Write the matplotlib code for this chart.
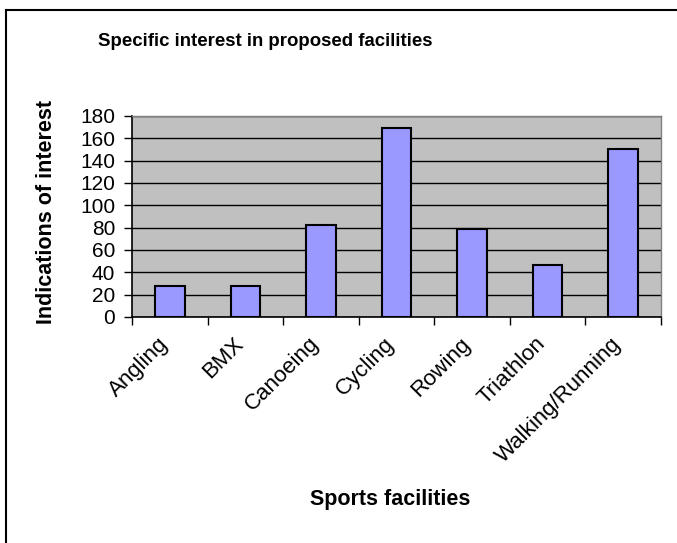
import matplotlib
matplotlib.use("Agg")
import matplotlib.pyplot as plt
import matplotlib.transforms as mtransforms
import numpy as np
from matplotlib.lines import Line2D

categories = ["Angling", "BMX", "Canoeing", "Cycling", "Rowing", "Triathlon", "Walking/Running"]
values = [28, 28, 82, 169, 79, 47, 150]
yticks = [0, 20, 40, 60, 80, 100, 120, 140, 160, 180]

plt.rcParams['font.family'] = ['Liberation Sans', 'DejaVu Sans']

W, H = 677, 543
fig = plt.figure(figsize=(W / 100, H / 100), dpi=100)
fig.patch.set_facecolor('white')

ax = fig.add_axes([132 / W, 1 - 317 / H, (661 - 132) / W, (317 - 116) / H])
ax.set_facecolor('#C0C0C0')
x = np.arange(len(categories))
ax.bar(x, values, width=0.39, color='#9999FF', edgecolor='black', linewidth=1.5, zorder=3)

ax.set_xlim(-0.5, len(categories) - 0.5)
ax.set_ylim(0, 180)
ax.set_yticks(yticks)
ax.set_yticklabels([str(v) for v in yticks], fontsize=15)
ax.yaxis.grid(True, color='black', linewidth=1.0, zorder=1)
ax.set_axisbelow(True)

ax.set_xticks(np.arange(-0.5, len(categories)), labels=[""] * (len(categories) + 1))
ax.set_xticks(x, labels=categories, minor=True)
ax.tick_params(axis='x', which='major', length=6, width=1, direction='out', color='black')
ax.tick_params(axis='x', which='minor', length=0, pad=17, labelsize=16)
ax.tick_params(axis='y', length=6, width=1, direction='out', pad=6)
off = mtransforms.ScaledTranslation(-5 / 100, 0, fig.dpi_scale_trans)
for lab in ax.get_xticklabels(minor=True):
    lab.set_rotation(45)
    lab.set_ha('right')
    lab.set_va('center')
    lab.set_rotation_mode('anchor')
    lab.set_transform(lab.get_transform() + off)

for s in ['left', 'bottom']:
    ax.spines[s].set_color('black')
    ax.spines[s].set_linewidth(1.2)
for s in ['top', 'right']:
    ax.spines[s].set_color('#808080')
    ax.spines[s].set_linewidth(1.0)

fig.text(265 / W, 1 - 42 / H, "Specific interest in proposed facilities",
         ha='center', va='center', fontsize=13.4, fontweight='bold')
fig.text(390 / W, 1 - 500 / H, "Sports facilities",
         ha='center', va='center', fontsize=15.5, fontweight='bold')
fig.text(47 / W, 1 - 212 / H, "Indications of interest",
         ha='center', va='center', fontsize=15.5, fontweight='bold', rotation=90)

# outer chart frame
fig.add_artist(Line2D([6 / W, 1.0], [1 - 10 / H, 1 - 10 / H], color='black', linewidth=1.5, transform=fig.transFigure))
fig.add_artist(Line2D([6 / W, 6 / W], [0.0, 1 - 10 / H], color='black', linewidth=1.5, transform=fig.transFigure))

fig.savefig("out.png", dpi=100)
